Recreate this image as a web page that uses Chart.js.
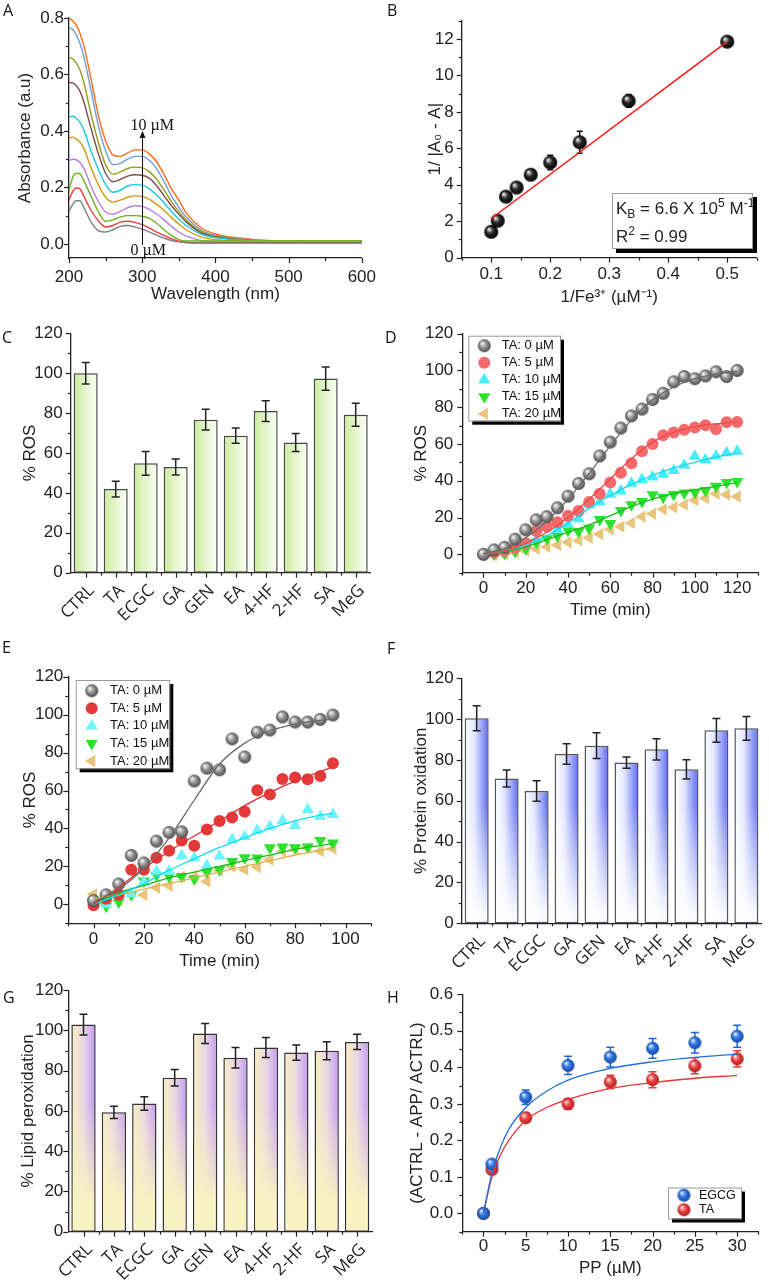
<!DOCTYPE html>
<html lang="en">
<head>
<meta charset="UTF-8">
<title>Figure A-H</title>
<script src="https://cdn.jsdelivr.net/npm/chart.js@4.4.1/dist/chart.umd.min.js"></script>
<style>
  body { margin: 0; background: #fff; }
  #page { position: relative; width: 769px; height: 1285px; overflow: hidden; font-family: "Liberation Sans", Arial, sans-serif; color: #222; }
  canvas { position: absolute; }
  .letter { position: absolute; font-family: "Open Sans", sans-serif; font-size: 16px; line-height: 1; color: #111; }
  .kbox { position: absolute; background: #fff; border: 1px solid #999; box-shadow: 4px 4px 0 #000;
          font-size: 17px; line-height: 28px; padding: 1px 0 0 3px; box-sizing: border-box; white-space: nowrap; }
  .kbox sub, .kbox sup { font-size: 12px; line-height: 0; }
</style>
</head>
<body>
<div id="page">
  <canvas id="cA" width="385" height="305" style="left:0px;top:0px"></canvas>
  <canvas id="cB" width="384" height="308" style="left:385px;top:0px"></canvas>
  <canvas id="cC" width="385" height="350" style="left:0px;top:305px"></canvas>
  <canvas id="cD" width="384" height="320" style="left:385px;top:305px"></canvas>
  <canvas id="cE" width="385" height="335" style="left:0px;top:640px"></canvas>
  <canvas id="cF" width="384" height="350" style="left:385px;top:640px"></canvas>
  <canvas id="cG" width="385" height="310" style="left:0px;top:975px"></canvas>
  <canvas id="cH" width="384" height="310" style="left:385px;top:975px"></canvas>

  <div class="letter" style="left:3px;top:2px">A</div>
  <div class="letter" style="left:387px;top:2px">B</div>
  <div class="letter" style="left:2px;top:329px">C</div>
  <div class="letter" style="left:385px;top:329px">D</div>
  <div class="letter" style="left:2px;top:639px">E</div>
  <div class="letter" style="left:387px;top:640px">F</div>
  <div class="letter" style="left:3px;top:989px">G</div>
  <div class="letter" style="left:387px;top:989px">H</div>

  <div class="kbox" style="left:612px;top:193px;width:141px;height:56px">
    <div>K<sub>B</sub> = 6.6 X 10<sup>5</sup> M<sup>-1</sup></div>
    <div>R<sup>2</sup> = 0.99</div>
  </div>
</div>

<script>
// ---------- A: absorbance spectra, 0 -> 10 uM
const wavelength = [200,205,210,215,220,230,240,250,260,270,280,290,300,310,320,330,340,350,360,380,400,450,500,600];
const abs0 = [.115,.14,.153,.153,.13,.078,.047,.042,.05,.062,.065,.06,.052,.042,.03,.02,.012,.007,.004,.003,.003,.003,.003,.003];
const abs1 = [.155,.185,.198,.195,.17,.12,.082,.06,.065,.077,.08,.076,.068,.056,.042,.03,.018,.01,.006,.004,.004,.004,.004,.004];
const abs2 = [.19,.235,.25,.248,.225,.17,.115,.08,.085,.095,.1,.1,.098,.09,.072,.05,.03,.015,.01,.01,.01,.01,.01,.01];
const abs3 = [.295,.3,.298,.288,.27,.205,.15,.113,.105,.115,.128,.135,.133,.122,.105,.085,.062,.042,.028,.012,.008,.006,.006,.006];
const abs4 = [.375,.378,.372,.36,.34,.27,.21,.165,.148,.155,.165,.17,.168,.158,.14,.118,.093,.07,.05,.025,.015,.01,.01,.01];
const abs5 = [.45,.452,.445,.43,.405,.33,.265,.21,.183,.19,.205,.21,.208,.195,.172,.145,.115,.088,.065,.035,.022,.012,.01,.01];
const abs6 = [.572,.57,.56,.54,.505,.41,.32,.25,.22,.228,.24,.245,.243,.232,.205,.17,.135,.105,.078,.04,.025,.012,.009,.008];
const abs7 = [.66,.655,.64,.615,.575,.46,.36,.28,.247,.255,.267,.272,.27,.255,.228,.19,.15,.115,.085,.045,.027,.013,.01,.008];
const abs8 = [.765,.76,.74,.71,.665,.545,.42,.33,.28,.285,.3,.31,.31,.295,.265,.22,.17,.13,.095,.05,.03,.014,.009,.006];
const abs9 = [.8,.79,.775,.745,.705,.585,.455,.365,.315,.31,.322,.333,.333,.318,.29,.245,.195,.155,.11,.058,.035,.016,.01,.005];
const absColors = ['#7f7f7f','#f03c3c','#6cb520','#b77ee8','#d49a10','#19c9d9','#7d4f4f','#9a9a1a','#6c9fdc','#ff6a10'];
const arrowAt = 300, arrowTop = 0.4, arrowBottom = -0.005;

// ---------- B: double reciprocal plot
const invFe = [0.1, 0.111, 0.125, 0.143, 0.167, 0.2, 0.25, 0.333, 0.5];
const invDA = [1.42, 2.03, 3.35, 3.85, 4.55, 5.22, 6.33, 8.6, 11.85];
const invDAErr = [0.15, 0.15, 0.2, 0.2, 0.25, 0.4, 0.6, 0.35, 0.1];
const fitBX = [0.1, 0.5];
const fitBY = [2.15, 11.85];

// ---------- C, F, G: bars
const compounds = ['CTRL','TA','ECGC','GA','GEN','EA','4-HF','2-HF','SA','MeG'];
const rosC = [100, 41.9, 54.8, 53, 76.7, 68.7, 81, 65.3, 97.3, 79.2];
const rosCErr = [5.4, 4, 6, 4, 5.2, 3.8, 5.2, 4.5, 5.8, 5.8];
const protF = [100.4, 70.9, 64.8, 82.9, 87, 78.7, 85.2, 75.4, 94.5, 95.5];
const protFErr = [6.1, 4.2, 5, 5, 6.3, 2.8, 5.2, 4.7, 5.8, 5.8];
const lipidG = [102.9, 59.3, 63.7, 76.5, 98.5, 86.4, 91.5, 89, 89.9, 94.3];
const lipidGErr = [5.2, 3, 3.3, 4.1, 5, 5.1, 5, 3.8, 4.5, 3.8];

// ---------- D: ROS vs time, 0-120 min
const timeD = [0,5,10,15,20,25,30,35,40,45,50,55,60,65,70,75,80,85,90,95,100,105,110,115,120];
const rosD0 = [0,2.4,3.8,8.2,13.3,18.7,20.5,25.3,31.6,38.5,43.8,53.5,61,68.7,75.3,79,84.2,87.6,93.8,96.7,95.5,97,99.3,96.7,100];
const rosD5 = [0,1,2,3.5,6,12.7,15,17.5,21,23.6,28.4,33,39,44.4,49.5,56,60,64.7,66.2,67.8,69,70.2,68.2,71.8,72];
const rosD10 = [0,0.5,1.5,4,5.5,8,15.5,13.6,16.2,19.3,27,28.5,32.7,34.5,38.7,40.7,42,43.6,45.6,48.4,53.3,51.5,53.5,55.3,56];
const rosD15 = [0,0,0.5,1.5,3,6.5,8.4,10,13,12.4,14.2,19,16.7,23.8,27,28.7,32.4,31,32.5,33.3,33.8,34.7,37,39,39.6];
const rosD20 = [0,-0.5,0,1,2,3,4,5,6.5,7.5,9,11,13.5,15,17,20.5,22,24.5,25.5,27,29.5,30.5,33,32.5,31.5];
const fitTimeD = [0,10,20,30,40,50,60,70,80,90,100,110,120];
const fitD0 = [0.5,3,9,18,30,44,59,73,84,91,95.5,98,99.5];
const fitD5 = [0,2,6,12,20,30,41,52,61,66.5,69.5,71,72];
const fitD10 = [0,2,5,10,17,25,32,38,43,47,50,53,55];
const fitD15 = [0,1.5,4,8,12,16,21,26,30,33,35,37,39];

// ---------- E: ROS vs time, 0-95 min
const timeE = [0,5,10,15,20,25,30,35,40,45,50,55,60,65,70,75,80,85,90,95];
const rosE0 = [2,5,10.7,25.8,21.8,33.3,37.9,38.2,65,71.8,70.9,87.2,77.7,90.7,91.9,98.8,96.1,96.1,97.5,99.8];
const rosE5 = [-0.5,3,5,18.2,18.2,24.6,28.2,33.7,30.9,39.5,43.9,45.8,48.8,60.2,57.9,66.1,66.8,66,67.7,74.4];
const rosE10 = [1,0,7.4,5.6,11.8,17.4,17.5,25.8,24.6,20.5,25.4,34.2,35.8,39.1,41,44.2,41.6,50,46.3,47.4];
const rosE15 = [1.2,-1,1.2,5,12.3,15.3,14.7,14.7,13.3,17,18.2,22.6,24.6,24.4,29.8,30.2,29.8,30.2,33.7,32.3];
const rosE20 = [5.3,0.4,2,18.8,4.9,8.8,9.8,14.7,14.4,12.1,17.9,20,18.2,19.6,23.5,28,28.9,29.8,28,29.3];
const fitTimeE = [0,10,20,30,40,50,60,70,80,90,95];
const fitE0 = [1,8,19,35,55,74,85,91.5,95,97,97.5];
const fitE5 = [0,9,19,28,36,44,52,59,65,70,72.5];
const fitE10 = [0,5,11,18,24,30,35,40,44,47,48];
const fitE15 = [0,6,10,14,17,20,23,26,29,31,32];
const fitE20 = [3,5,8,11,14,17,20,23,26,28.5,29.5];
const taLabels = ['TA: 0 µM','TA: 5 µM','TA: 10 µM','TA: 15 µM','TA: 20 µM'];

// ---------- H: inhibition vs polyphenol
const ppConc = [0,1,5,10,15,20,25,30];
const egcgInh = [0,0.135,0.318,0.405,0.428,0.452,0.467,0.485];
const egcgErr = [0,0.008,0.02,0.025,0.027,0.027,0.028,0.03];
const taInh = [0,0.12,0.262,0.3,0.36,0.366,0.404,0.423];
const taErr = [0,0.01,0.012,0.014,0.018,0.022,0.022,0.022];
const ppFit = [0,1,2,3,5,7.5,10,15,20,25,30];
const egcgFit = [0,0.11,0.18,0.23,0.29,0.335,0.365,0.397,0.415,0.427,0.436];
const taFit = [0,0.1,0.16,0.2,0.255,0.29,0.312,0.342,0.358,0.37,0.378];

// ---------- tick label lists
const ticksA_x = [200,300,400,500,600], minorA_x = [250,350,450,550];
const ticksA_y = [0,0.2,0.4,0.6,0.8], minorA_y = [0.1,0.3,0.5,0.7];
const ticksB_x = [0.1,0.2,0.3,0.4,0.5], minorB_x = [0.05,0.15,0.25,0.35,0.45,0.55];
const ticksB_y = [0,2,4,6,8,10,12], minorB_y = [1,3,5,7,9,11,13];
const ticksPct = [0,20,40,60,80,100,120], minorPct = [10,30,50,70,90,110];
const minorPctNeg = [-10,10,30,50,70,90,110];
const ticksD_x = [0,20,40,60,80,100,120], minorD_x = [-10,10,30,50,70,90,110,130];
const ticksE_x = [0,20,40,60,80,100], minorE_x = [-10,10,30,50,70,90,110];
const ticksH_x = [0,5,10,15,20,25,30], minorH_x = [-2.5,2.5,7.5,12.5,17.5,22.5,27.5,32.5];
const ticksH_y = [0,0.1,0.2,0.3,0.4,0.5,0.6], minorH_y = [-0.05,0.05,0.15,0.25,0.35,0.45,0.55];

// ---------- helpers
function xy(xs, ys) { return xs.map((x, i) => ({ x: x, y: ys[i] })); }

function sphere(light, mid, dark, r) {
  const c = document.createElement('canvas');
  const s = Math.ceil(r * 2) + 2;
  c.width = s; c.height = s;
  const g = c.getContext('2d');
  const m = s / 2;
  const grd = g.createRadialGradient(m - r * 0.35, m - r * 0.4, r * 0.08, m, m, r);
  grd.addColorStop(0, light);
  grd.addColorStop(0.45, mid);
  grd.addColorStop(1, dark);
  g.fillStyle = grd;
  g.beginPath(); g.arc(m, m, r, 0, Math.PI * 2); g.fill();
  return c;
}
const graySphere = sphere('#f4f4f4', '#9a9a9a', '#4a4a4a', 6.5);
const blackSphere = sphere('#e6e6e6', '#2a2a2a', '#000', 7);
const blueSphere = sphere('#dbe9ff', '#2f78e6', '#17479e', 6.5);
const redSphere = sphere('#ffe2e2', '#ef4646', '#a81c1c', 6.5);

// outward tick marks (major long, minor short)
const tickMarks = {
  id: 'tickMarks',
  afterDraw(chart, args, opts) {
    const ctx = chart.ctx;
    ctx.save();
    ctx.strokeStyle = '#222';
    ctx.lineWidth = 1.2;
    ['x', 'y'].forEach(id => {
      const s = chart.scales[id], o = opts[id];
      if (!s || !o) return;
      const marks = o.major.map(v => [v, 5]).concat((o.minor || []).map(v => [v, 3]));
      marks.forEach(([v, len]) => {
        const p = Math.round(s.getPixelForValue(v)) + 0.5;
        ctx.beginPath();
        if (id === 'x') { ctx.moveTo(p, s.top); ctx.lineTo(p, s.top + len); }
        else { ctx.moveTo(s.right, p); ctx.lineTo(s.right - len, p); }
        ctx.stroke();
      });
    });
    ctx.restore();
  }
};

// error bars from dataset.errors
function drawErrors(chart, layer) {
  const ctx = chart.ctx, ys = chart.scales.y;
  chart.data.datasets.forEach((ds, di) => {
    if (!ds.errors || (ds.errorLayer || 'after') !== layer) return;
    const meta = chart.getDatasetMeta(di);
    ctx.save();
    ctx.strokeStyle = ds.errorColor || '#222';
    ctx.lineWidth = 1.5;
    meta.data.forEach((el, i) => {
      const e = ds.errors[i];
      if (!e) return;
      const d = ds.data[i];
      const v = typeof d === 'object' ? d.y : d;
      const y1 = ys.getPixelForValue(v + e), y2 = ys.getPixelForValue(v - e);
      const c = ds.capHalf || 4;
      ctx.beginPath();
      ctx.moveTo(el.x, y1); ctx.lineTo(el.x, y2);
      ctx.moveTo(el.x - c, y1); ctx.lineTo(el.x + c, y1);
      ctx.moveTo(el.x - c, y2); ctx.lineTo(el.x + c, y2);
      ctx.stroke();
    });
    ctx.restore();
  });
}
const errorBars = {
  id: 'errorBars',
  beforeDatasetsDraw(chart) { drawErrors(chart, 'before'); },
  afterDatasetsDraw(chart) { drawErrors(chart, 'after'); }
};

// vertical fade laid over the bar fill
const barFade = {
  id: 'barFade',
  afterDatasetDraw(chart, args, opts) {
    if (!opts.solid || args.meta.type !== 'bar') return;
    const ctx = chart.ctx, ys = chart.scales.y;
    const g = ctx.createLinearGradient(0, ys.getPixelForValue(opts.from), 0, ys.getPixelForValue(opts.to));
    g.addColorStop(0, opts.clear);
    g.addColorStop(1, opts.solid);
    ctx.save();
    ctx.fillStyle = g;
    args.meta.data.forEach(el => {
      const w = el.width;
      ctx.fillRect(el.x - w / 2 + 1.5, el.y + 1.5, w - 3, el.base - el.y - 3);
    });
    ctx.restore();
  }
};

// boxed legend with drop shadow
const boxLegend = {
  id: 'boxLegend',
  afterDraw(chart, args, o) {
    if (!o.items) return;
    const a = chart.chartArea, ctx = chart.ctx;
    const x = a.left + o.dx, y = a.top + o.dy;
    ctx.save();
    ctx.fillStyle = '#000';
    ctx.fillRect(x + 4, y + 4, o.w, o.h);
    ctx.fillStyle = '#fff';
    ctx.fillRect(x, y, o.w, o.h);
    ctx.strokeStyle = '#999';
    ctx.lineWidth = 1;
    ctx.strokeRect(x + 0.5, y + 0.5, o.w, o.h);
    ctx.font = (o.size || 13) + 'px "Liberation Sans"';
    ctx.textBaseline = 'middle';
    o.items.forEach((di, i) => {
      const ds = chart.data.datasets[di];
      const cy = y + o.first + i * o.row;
      ctx.fillStyle = ds.backgroundColor;
      ctx.strokeStyle = ds.backgroundColor;
      Chart.helpers.drawPoint(ctx, { pointStyle: ds.pointStyle, rotation: ds.pointRotation || 0,
        radius: ds.pointRadius, borderWidth: 0 }, x + o.mx, cy);
      ctx.fillStyle = '#111';
      ctx.fillText(ds.label, x + o.tx, cy);
    });
    ctx.restore();
  }
};

// arrow and concentration labels of panel A
const concArrow = {
  id: 'concArrow',
  afterDatasetsDraw(chart) {
    const xs = chart.scales.x, ys = chart.scales.y, ctx = chart.ctx;
    const x = Math.round(xs.getPixelForValue(arrowAt)) + 0.5;
    const yTop = ys.getPixelForValue(arrowTop), yBot = ys.getPixelForValue(arrowBottom);
    ctx.save();
    ctx.strokeStyle = '#111'; ctx.fillStyle = '#111'; ctx.lineWidth = 1;
    ctx.beginPath(); ctx.moveTo(x, yBot); ctx.lineTo(x, yTop + 6); ctx.stroke();
    ctx.beginPath(); ctx.moveTo(x, yTop); ctx.lineTo(x - 3, yTop + 7); ctx.lineTo(x + 3, yTop + 7); ctx.closePath(); ctx.fill();
    ctx.font = '16px "Liberation Serif"';
    ctx.textBaseline = 'alphabetic';
    ctx.fillText('10 µM', x - 12, yTop - 1);
    ctx.fillText('0 µM', x - 12, yBot + 10);
    ctx.restore();
  }
};

function axis(o) {
  const a = {
    type: o.type || 'linear',
    offset: o.type === 'category',
    grid: { display: false, drawTicks: false },
    border: { display: true, color: '#222', width: 1.3 },
    ticks: {
      padding: o.pad, color: '#222', autoSkip: false,
      maxRotation: o.rot || 0, minRotation: o.rot || 0, labelOffset: o.shift || 0,
      font: { family: o.family || 'Liberation Sans', size: o.size || 17 }
    },
    title: { display: !!o.title, text: o.title || '', color: '#222',
      font: { family: 'Liberation Sans', size: 17 }, padding: o.tpad || 0 },
    afterFit: s => { if (o.w != null) s.width = o.w; if (o.h != null) s.height = o.h; }
  };
  if (o.min != null) { a.min = o.min; a.max = o.max; }
  if (o.major) a.afterBuildTicks = s => { s.ticks = o.major.map(v => ({ value: v })); };
  if (o.fmt) a.ticks.callback = o.fmt;
  return a;
}

function makeChart(id, type, datasets, o) {
  const data = { datasets: datasets };
  if (o.labels) data.labels = o.labels;
  return new Chart(document.getElementById(id), {
    type: type,
    data: data,
    plugins: [tickMarks, errorBars, barFade, boxLegend].concat(o.extra ? [o.extra] : []),
    options: {
      responsive: false, animation: false, events: [],
      layout: { padding: { top: o.pt, right: o.pr, left: 0, bottom: 0 } },
      plugins: {
        legend: { display: false }, tooltip: { enabled: false },
        tickMarks: o.marks, barFade: o.fade || {}, boxLegend: o.legend || {}
      },
      scales: { x: o.x, y: o.y }
    }
  });
}

function barFill(stops) {
  return ctx => {
    const chart = ctx.chart, xs = chart.scales.x;
    if (!xs || !chart.chartArea) return stops[0][1];
    const cx = xs.getPixelForValue(ctx.dataIndex);
    const half = (xs.width / chart.data.labels.length) * 0.8 / 2;
    const g = chart.ctx.createLinearGradient(cx - half, 0, cx + half, 0);
    stops.forEach(s => g.addColorStop(s[0], s[1]));
    return g;
  };
}

function barSet(values, errs, stops, border) {
  return {
    data: values, errors: errs, errorColor: '#222',
    backgroundColor: barFill(stops), borderColor: border, borderWidth: 1.5,
    borderSkipped: false, barPercentage: 0.8, categoryPercentage: 1
  };
}

function fitLine(xs, ys, color) {
  return { type: 'line', data: xy(xs, ys), borderColor: color, borderWidth: 1.3,
    pointRadius: 0, cubicInterpolationMode: 'monotone', fill: false, order: 0 };
}

function pointSet(label, xs, ys, style, color, rot, r) {
  return { type: 'scatter', label: label, data: xy(xs, ys), pointStyle: style, pointRotation: rot || 0,
    pointRadius: r || 6, backgroundColor: color, borderWidth: 0, showLine: false, order: 1 };
}

const int = v => String(v);
const one = v => v.toFixed(1);

// ---------- A
makeChart('cA', 'line',
  [abs0, abs1, abs2, abs3, abs4, abs5, abs6, abs7, abs8, abs9].map((ys, i) => ({
    data: xy(wavelength, ys), borderColor: absColors[i], borderWidth: 1.4,
    pointRadius: 0, cubicInterpolationMode: 'monotone', fill: false
  })),
  {
    pt: 18, pr: 17,
    x: axis({ min: 200, max: 600, major: ticksA_x, fmt: int, pad: 9, h: 47, title: 'Wavelength (nm)', tpad: { bottom: 0 } }),
    y: axis({ min: -0.05, max: 0.8, major: ticksA_y, fmt: one, pad: 5, w: 69, title: 'Absorbance (a.u)', tpad: { top: 15 } }),
    marks: { x: { major: ticksA_x, minor: minorA_x }, y: { major: ticksA_y, minor: minorA_y } },
    extra: concArrow
  });

// ---------- B
makeChart('cB', 'scatter',
  [
    { type: 'line', data: xy(fitBX, fitBY), borderColor: '#ff1414', borderWidth: 1.5, pointRadius: 0, order: 0 },
    { data: xy(invFe, invDA), errors: invDAErr, errorLayer: 'before', errorColor: '#111', capHalf: 3,
      pointStyle: blackSphere, pointRadius: 7, order: 1 }
  ],
  {
    pt: 20.7, pr: 12.3,
    x: axis({ min: 0.05, max: 0.55, major: ticksB_x, fmt: one, pad: 6, h: 50.3, title: '1/Fe³⁺ (µM⁻¹)', tpad: { bottom: 0 } }),
    y: axis({ min: 0, max: 13, major: ticksB_y, fmt: int, pad: 8, w: 76.7, title: '1/ |A₀ - A|', tpad: { top: 40 } }),
    marks: { x: { major: ticksB_x, minor: minorB_x }, y: { major: ticksB_y, minor: minorB_y } }
  });

// ---------- C
const catMajor = compounds.map((c, i) => i);
const catMinor = compounds.slice(1).map((c, i) => i + 0.5);
makeChart('cC', 'bar',
  [barSet(rosC, rosCErr, [[0, '#c9ea98'], [0.45, '#e3f5c9'], [1, '#fbfef5']], '#474747')],
  {
    labels: compounds, pt: 28.3, pr: 14.3,
    x: axis({ type: 'category', rot: 45, family: 'Open Sans', size: 17, pad: 8, shift: 6, h: 82.3 }),
    y: axis({ min: 0, max: 120, major: ticksPct, fmt: int, pad: 8, w: 70.7, title: '% ROS', tpad: { top: 20 } }),
    marks: { x: { major: catMajor, minor: catMinor }, y: { major: ticksPct, minor: minorPct } }
  });

// ---------- D
makeChart('cD', 'scatter',
  [
    pointSet(taLabels[0], timeD, rosD0, graySphere, '#8a8a8a'),
    pointSet(taLabels[1], timeD, rosD5, 'circle', '#f46a6a'),
    pointSet(taLabels[2], timeD, rosD10, 'triangle', '#45eefa', 0, 7),
    pointSet(taLabels[3], timeD, rosD15, 'triangle', '#2de22d', 180, 7),
    pointSet(taLabels[4], timeD, rosD20, 'triangle', '#e9c57c', 270, 7),
    fitLine(fitTimeD, fitD0, '#6a6a6a'),
    fitLine(fitTimeD, fitD5, '#f04848'),
    fitLine(fitTimeD, fitD10, '#1ed6f0'),
    fitLine(fitTimeD, fitD15, '#1fb81f')
  ],
  {
    pt: 28.7, pr: 10.7,
    x: axis({ min: -10, max: 130, major: ticksD_x, fmt: int, pad: 5, h: 52.3, title: 'Time (min)', tpad: { bottom: 4.8 } }),
    y: axis({ min: -10, max: 120, major: ticksPct, fmt: int, pad: 9, w: 77.3, title: '% ROS', tpad: { top: 26.5 } }),
    marks: { x: { major: ticksD_x, minor: minorD_x }, y: { major: ticksPct, minor: minorPctNeg } },
    legend: { items: [0, 1, 2, 3, 4], dx: 6, dy: 2, w: 91.7, h: 85, first: 10, row: 17, mx: 16, tx: 33.4 }
  });

// ---------- E
makeChart('cE', 'scatter',
  [
    pointSet(taLabels[0], timeE, rosE0, graySphere, '#8a8a8a'),
    pointSet(taLabels[1], timeE, rosE5, 'circle', '#e53a3a'),
    pointSet(taLabels[2], timeE, rosE10, 'triangle', '#6ff3fb', 0, 7),
    pointSet(taLabels[3], timeE, rosE15, 'triangle', '#2de22d', 180, 7),
    pointSet(taLabels[4], timeE, rosE20, 'triangle', '#e9c57c', 270, 7),
    fitLine(fitTimeE, fitE0, '#6a6a6a'),
    fitLine(fitTimeE, fitE5, '#e53030'),
    fitLine(fitTimeE, fitE10, '#10def8'),
    fitLine(fitTimeE, fitE15, '#1fb81f'),
    fitLine(fitTimeE, fitE20, '#e0b050')
  ],
  {
    pt: 36.7, pr: 14.3,
    x: axis({ min: -10, max: 110, major: ticksE_x, fmt: int, pad: 5.5, h: 51.7, title: 'Time (min)', tpad: { bottom: 3.1 } }),
    y: axis({ min: -10, max: 120, major: ticksPct, fmt: int, pad: 5, w: 68.3, title: '% ROS', tpad: { top: 19.8 } }),
    marks: { x: { major: ticksE_x, minor: minorE_x }, y: { major: ticksPct, minor: minorPctNeg } },
    legend: { items: [0, 1, 2, 3, 4], dx: 7.4, dy: 3.3, w: 93.6, h: 88.3, first: 10.7, row: 17.6, mx: 16, tx: 34.3 }
  });

// ---------- F
makeChart('cF', 'bar',
  [barSet(protF, protFErr, [[0, '#ffffff'], [0.4, '#e4e7fd'], [1, '#5a6bf2']], '#555')],
  {
    labels: compounds, pt: 38.3, pr: 4,
    x: axis({ type: 'category', rot: 45, family: 'Open Sans', size: 17, pad: 8, shift: 6, h: 66.7 }),
    y: axis({ min: 0, max: 120, major: ticksPct, fmt: int, pad: 8, w: 76.7, title: '% Protein oxidation', tpad: { top: 26.5 } }),
    marks: { x: { major: catMajor, minor: catMinor }, y: { major: ticksPct, minor: minorPct } },
    fade: { from: 58, to: 5, clear: 'rgba(255,255,255,0)', solid: 'rgba(255,255,255,0.95)' }
  });

// ---------- G
makeChart('cG', 'bar',
  [barSet(lipidG, lipidGErr, [[0, '#f9f0bb'], [0.5, '#ead7e4'], [1, '#c39bf3']], '#333')],
  {
    labels: compounds, pt: 15, pr: 12.7,
    x: axis({ type: 'category', rot: 45, family: 'Open Sans', size: 17, pad: 8, shift: 6, h: 53.3 }),
    y: axis({ min: 0, max: 120, major: ticksPct, fmt: int, pad: 5, w: 68.3, title: '% Lipid peroxidation', tpad: { top: 18 } }),
    marks: { x: { major: catMajor, minor: catMinor }, y: { major: ticksPct, minor: minorPct } },
    fade: { from: 62, to: 15, clear: 'rgba(249,242,194,0)', solid: 'rgba(249,242,194,1)' }
  });

// ---------- H
makeChart('cH', 'scatter',
  [
    { type: 'scatter', label: 'EGCG', data: xy(ppConc, egcgInh), errors: egcgErr, errorLayer: 'before',
      errorColor: '#1f66d6', capHalf: 4, pointStyle: blueSphere, pointRadius: 6.5, backgroundColor: '#2f78e6', order: 1 },
    { type: 'scatter', label: 'TA', data: xy(ppConc, taInh), errors: taErr, errorLayer: 'before',
      errorColor: '#e23b3b', capHalf: 4, pointStyle: redSphere, pointRadius: 6.5, backgroundColor: '#ef4646', order: 1 },
    fitLine(ppFit, egcgFit, '#1f6fe0'),
    fitLine(ppFit, taFit, '#ee3333')
  ],
  {
    pt: 16.7, pr: 10.7,
    x: axis({ min: -2.5, max: 32.5, major: ticksH_x, fmt: int, pad: 4, h: 53.3, title: 'PP (µM)', tpad: { bottom: 6.8 } }),
    y: axis({ min: -0.05, max: 0.6, major: ticksH_y, fmt: one, pad: 9, w: 77.3, title: '(ACTRL - APP/ ACTRL)', tpad: { top: 22.5 } }),
    marks: { x: { major: ticksH_x, minor: minorH_x }, y: { major: ticksH_y, minor: minorH_y } },
    legend: { items: [0, 1], dx: 205.7, dy: 193.3, w: 73, h: 31, first: 7.7, row: 14.6, mx: 16, tx: 31, size: 12.5 }
  });
</script>
</body>
</html>
